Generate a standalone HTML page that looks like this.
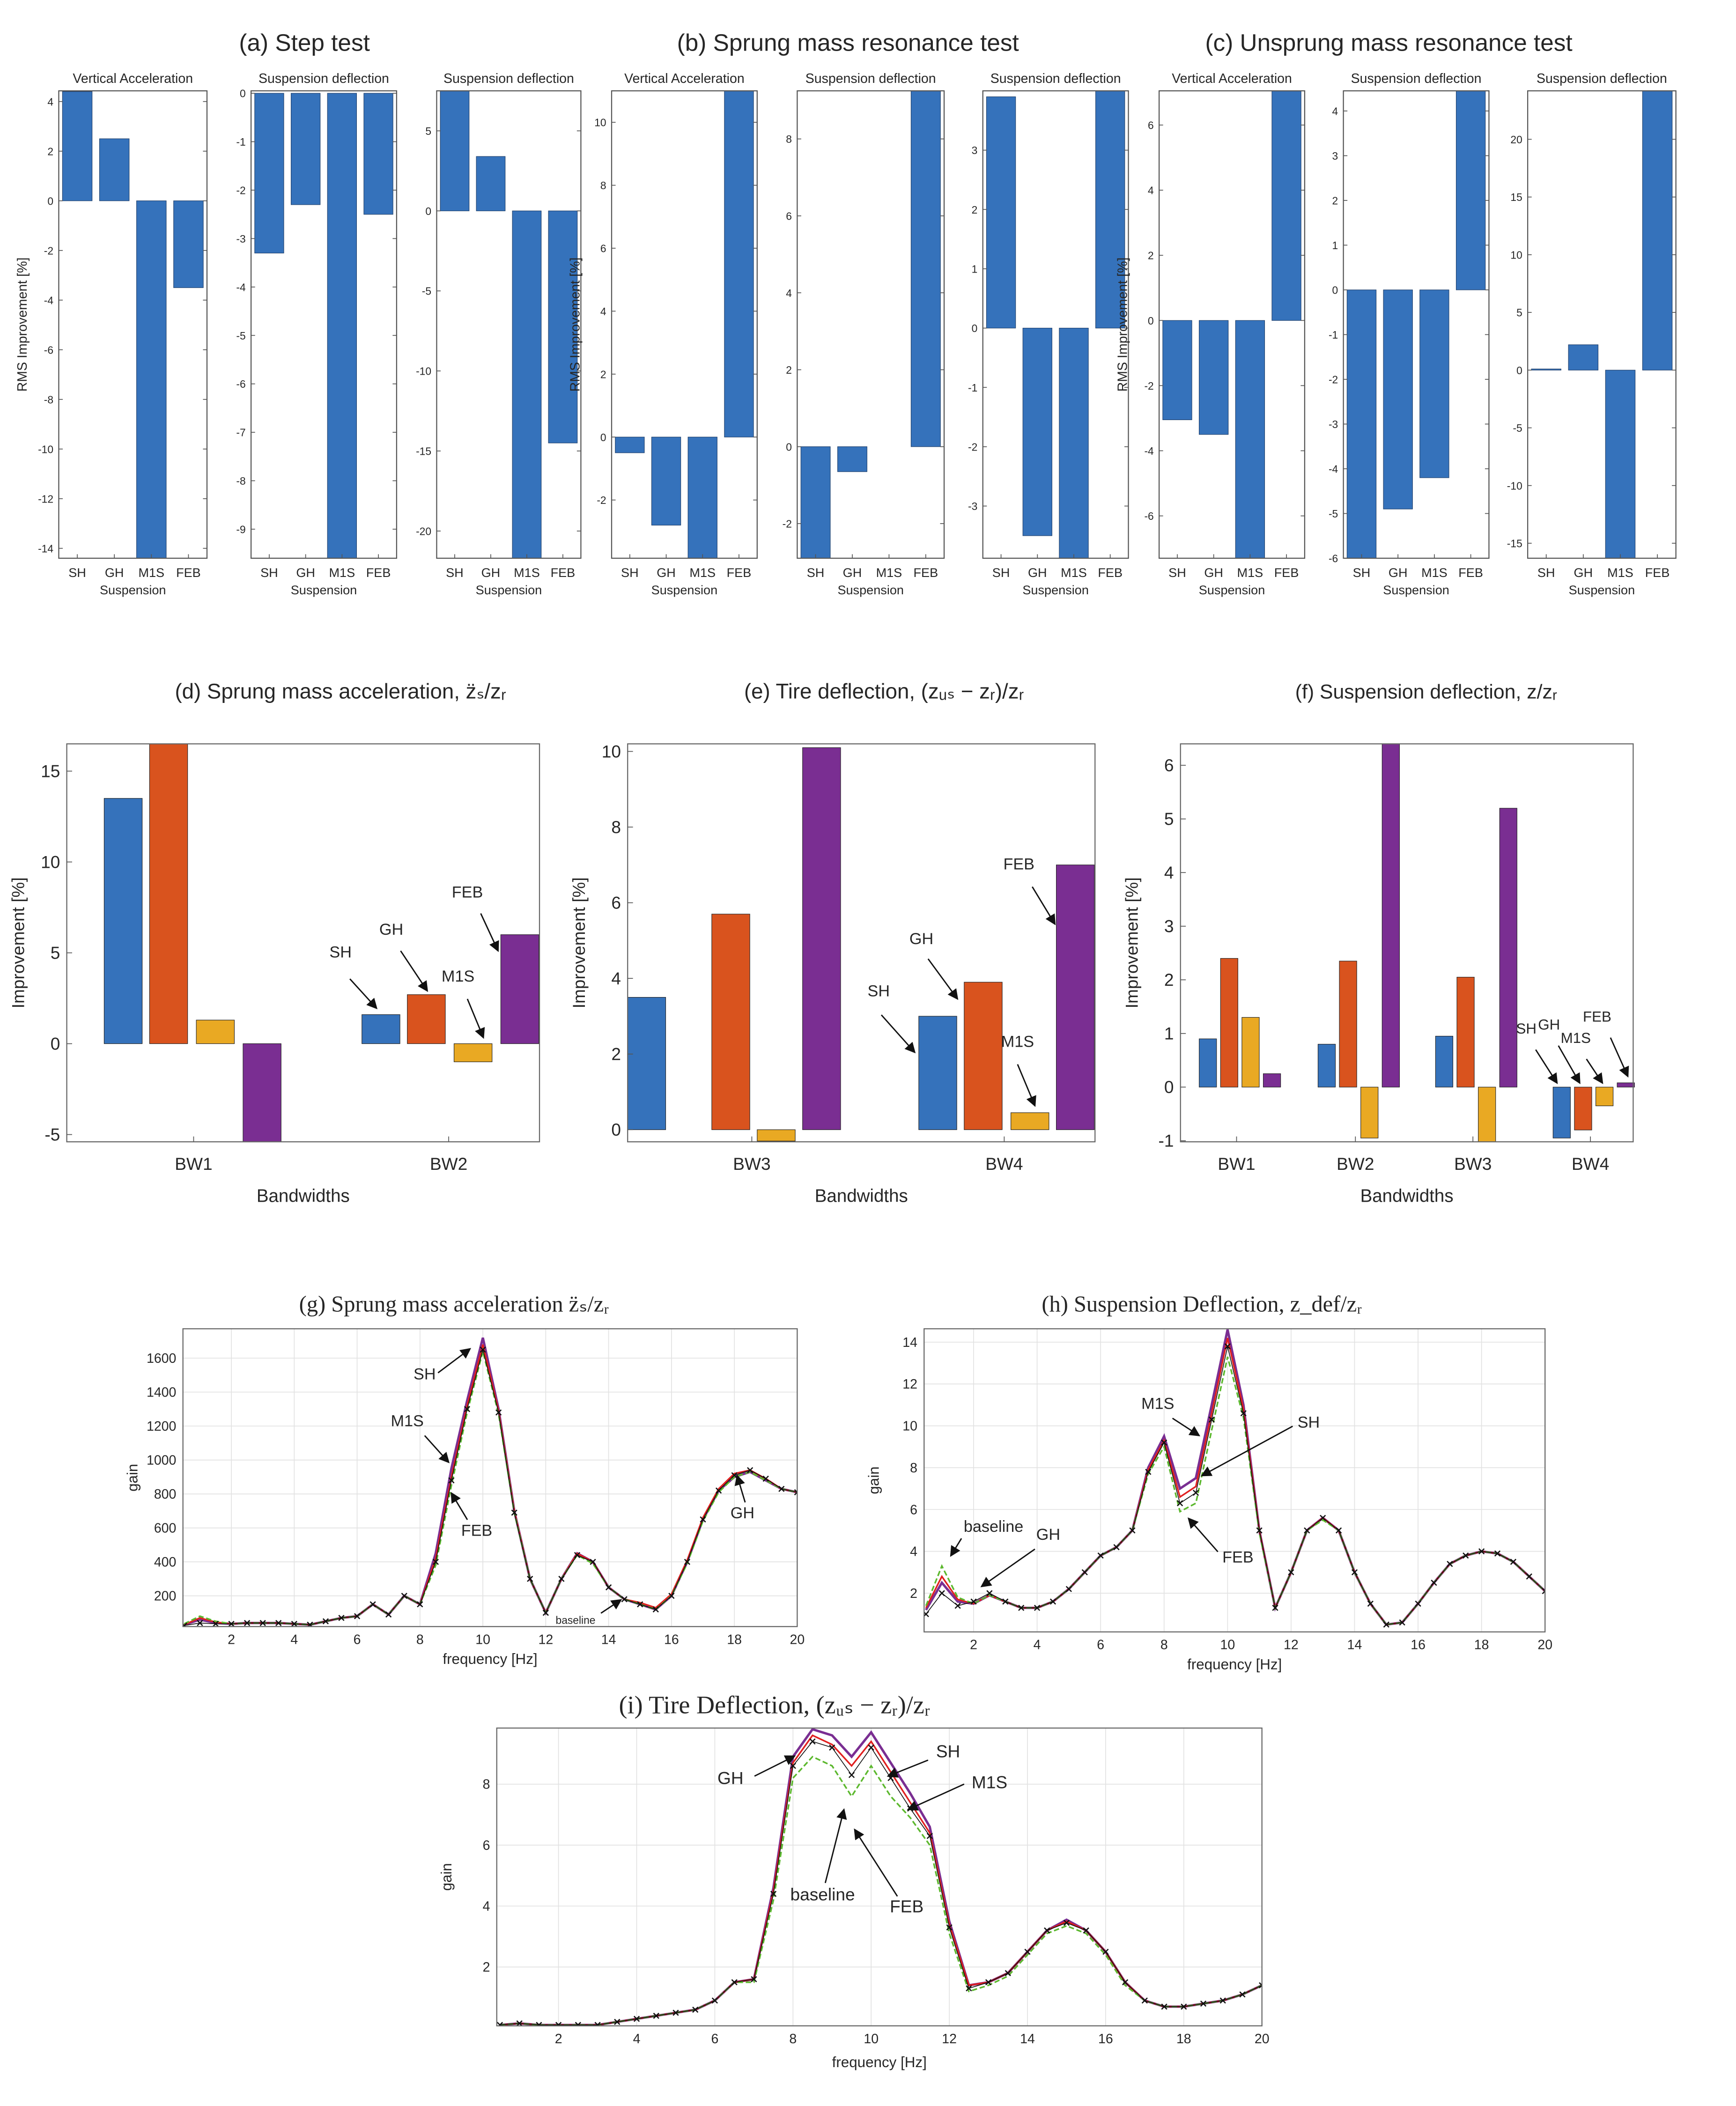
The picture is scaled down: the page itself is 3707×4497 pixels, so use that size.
<!DOCTYPE html>
<html><head><meta charset="utf-8">
<style>
html,body{margin:0;padding:0;background:#fff;}
svg{display:block;font-family:"Liberation Sans",sans-serif;}
</style></head>
<body>
<svg id="fig" xmlns="http://www.w3.org/2000/svg" width="3707" height="4497" viewBox="0 0 1300 1577">
<rect width="1300" height="1577" fill="#fff"/>
</svg>
<script>
// ---------- data: top row (RMS improvement, %) ----------
const suspCats = ["SH","GH","M1S","FEB"];
const stepVA = [4.4, 2.5, -14.4, -3.5];
const stepSD1 = [-3.3, -2.3, -9.6, -2.5];
const stepSD2 = [7.5, 3.4, -21.7, -14.5];
const sprVA = [-0.5, -2.8, -3.85, 11];
const sprSD1 = [-2.9, -0.65, 0, 9.25];
const sprSD2 = [3.9, -3.5, -3.88, 4.0];
const unsVA = [-3.05, -3.5, -7.3, 7.05];
const unsSD1 = [-6, -4.9, -4.2, 4.45];
const unsSD2 = [0.1, 2.2, -16.3, 24.2];
// ---------- data: middle row (improvement by bandwidth) ----------
const dCats = ["BW1","BW2"];
const dSH = [13.5, 1.6], dGH = [16.5, 2.7], dM1S = [1.3, -1.0], dFEB = [-5.4, 6.0];
const eCats = ["BW3","BW4"];
const eSH = [3.5, 3.0], eGH = [5.7, 3.9], eM1S = [-0.3, 0.45], eFEB = [10.1, 7.0];
const fCats = ["BW1","BW2","BW3","BW4"];
const fSH = [0.9, 0.8, 0.95, -0.95], fGH = [2.4, 2.35, 2.05, -0.8], fM1S = [1.3, -0.95, -1.02, -0.35], fFEB = [0.25, 6.4, 5.2, 0.08];
// ---------- data: bottom row (frequency response) ----------
const freq = [0.5,1,1.5,2,2.5,3,3.5,4,4.5,5,5.5,6,6.5,7,7.5,8,8.5,9,9.5,10,10.5,11,11.5,12,12.5,13,13.5,14,14.5,15,15.5,16,16.5,17,17.5,18,18.5,19,19.5,20];
const gBase = [30,60,40,35,40,40,40,35,30,50,70,80,150,90,200,150,450,950,1350,1720,1300,700,300,100,300,450,400,250,180,150,120,200,400,650,820,900,930,880,830,810];
const gSH   = [30,70,45,35,40,40,40,35,30,50,70,80,150,90,200,150,420,900,1320,1680,1290,700,300,100,300,450,400,250,180,160,130,210,410,660,830,920,940,890,830,810];
const gGH   = [25,40,35,35,40,40,40,35,30,50,70,80,150,90,200,150,400,880,1300,1650,1280,690,300,100,300,440,400,250,180,150,120,200,400,650,820,910,940,890,830,810];
const gFEB  = [35,80,50,35,40,40,40,35,30,50,70,80,150,90,200,150,380,850,1280,1640,1270,690,300,100,300,440,390,250,180,150,120,200,390,640,810,900,930,880,830,810];
const hBase = [1.2,2.5,1.6,1.5,1.9,1.6,1.3,1.3,1.6,2.2,3.0,3.8,4.2,5.0,8.0,9.5,7.0,7.5,11,14.6,11,5.0,1.3,3.0,5.0,5.6,5.0,3.0,1.5,0.5,0.6,1.5,2.5,3.4,3.8,4.0,3.9,3.5,2.8,2.1];
const hSH   = [1.3,2.8,1.7,1.5,1.9,1.6,1.3,1.3,1.6,2.2,3.0,3.8,4.2,5.0,7.9,9.3,6.6,7.1,10.6,14.2,10.8,5.0,1.3,3.0,5.0,5.6,5.0,3.0,1.5,0.5,0.6,1.5,2.5,3.4,3.8,4.0,3.9,3.5,2.8,2.1];
const hGH   = [1.0,2.0,1.4,1.6,2.0,1.6,1.3,1.3,1.6,2.2,3.0,3.8,4.2,5.0,7.8,9.2,6.3,6.8,10.3,13.8,10.6,5.0,1.3,3.0,5.0,5.6,5.0,3.0,1.5,0.5,0.6,1.5,2.5,3.4,3.8,4.0,3.9,3.5,2.8,2.1];
const hFEB  = [1.4,3.3,1.8,1.5,1.9,1.6,1.3,1.3,1.6,2.2,3.0,3.8,4.2,5.0,7.7,9.0,5.9,6.3,9.8,13.3,10.4,4.9,1.3,3.0,5.0,5.5,5.0,3.0,1.5,0.5,0.6,1.5,2.5,3.4,3.8,4.0,3.9,3.5,2.8,2.1];
const iBase = [0.1,0.15,0.1,0.1,0.1,0.1,0.2,0.3,0.4,0.5,0.6,0.9,1.5,1.6,4.6,8.9,9.8,9.6,8.9,9.7,8.7,7.7,6.6,3.5,1.4,1.5,1.8,2.5,3.2,3.55,3.2,2.5,1.5,0.9,0.7,0.7,0.8,0.9,1.1,1.4];
const iSH   = [0.1,0.15,0.1,0.1,0.1,0.1,0.2,0.3,0.4,0.5,0.6,0.9,1.5,1.6,4.5,8.7,9.6,9.3,8.6,9.4,8.4,7.4,6.4,3.4,1.4,1.5,1.8,2.5,3.2,3.5,3.2,2.5,1.5,0.9,0.7,0.7,0.8,0.9,1.1,1.4];
const iGH   = [0.1,0.15,0.1,0.1,0.1,0.1,0.2,0.3,0.4,0.5,0.6,0.9,1.5,1.6,4.4,8.6,9.4,9.2,8.3,9.2,8.2,7.2,6.3,3.3,1.3,1.5,1.8,2.5,3.2,3.45,3.2,2.5,1.5,0.9,0.7,0.7,0.8,0.9,1.1,1.4];
const iFEB  = [0.1,0.15,0.1,0.1,0.1,0.1,0.2,0.3,0.4,0.5,0.6,0.9,1.5,1.5,4.2,8.2,8.9,8.6,7.6,8.6,7.6,6.9,6.0,3.1,1.2,1.4,1.7,2.4,3.1,3.35,3.1,2.4,1.4,0.9,0.7,0.7,0.8,0.9,1.1,1.4];

const NS="http://www.w3.org/2000/svg";
const svg=document.getElementById('fig');
function mk(tag,attrs,parent,txt){const e=document.createElementNS(NS,tag);for(const k in attrs)e.setAttribute(k,attrs[k]);if(txt!==undefined)e.textContent=txt;(parent||svg).appendChild(e);return e;}
function text(x,y,s,size,anchor,name,extra){
  const t=mk('text',Object.assign({x:x,y:y,'font-size':size,'text-anchor':anchor||'middle',fill:'#262626'},extra||{}),svg,s);
  
  
  return t;
}
const BLUE='#3572bb',ORANGE='#d9531e',YELLOW='#e9a923',PURPLE='#7a2e92',GREEN='#5cb82e';

// ---------- top row small bar panels ----------
function smallPanel(name,x0,x1,y0,y1,ymin,ymax,ticks,vals,title,ylab){
  const g=mk('g',{});
  
  
  const ys=v=>y1-(v-ymin)/(ymax-ymin)*(y1-y0);
  const n=vals.length, step=(x1-x0)/n;
  const xs=i=>x0+step*(i+0.5);
  vals.forEach((v,i)=>{
    const vv=Math.max(ymin,Math.min(ymax,v));
    const r=mk('rect',{x:xs(i)-step*0.4,y:Math.min(ys(0),ys(vv)),width:step*0.8,height:Math.abs(ys(vv)-ys(0)),fill:BLUE,stroke:'#1f3f6a','stroke-width':0.4},g);
    
    
  });
  mk('rect',{x:x0,y:y0,width:x1-x0,height:y1-y0,fill:'none',stroke:'#555','stroke-width':0.8},g);
  ticks.forEach(t=>{const y=ys(t);mk('line',{x1:x0,x2:x0+3,y1:y,y2:y,stroke:'#555','stroke-width':0.6},g);mk('line',{x1:x1,x2:x1-3,y1:y,y2:y,stroke:'#555','stroke-width':0.6},g);
    text(x0-4,y+3,String(t),8,'end','y-tick-label');});
  suspCats.forEach((c,i)=>{mk('line',{x1:xs(i),x2:xs(i),y1:y1,y2:y1-3,stroke:'#555','stroke-width':0.6},g);text(xs(i),y1+14,c,9.5,'middle','x-tick-label');});
  text((x0+x1)/2,y1+27,'Suspension',9.5,'middle','x-axis-title');
  text((x0+x1)/2,y0-6,title,10,'middle','panel-title');
  if(ylab){text(0,0,'RMS Improvement [%]',10,'middle','y-axis-title',{transform:`translate(${x0-24},${(y0+y1)/2}) rotate(-90)`});}
}
smallPanel('step-vertical-acc',44,155,68,418,-14.4,4.43,[4,2,0,-2,-4,-6,-8,-10,-12,-14],stepVA,'Vertical Acceleration',true);
smallPanel('step-susp-defl-1',188,297,68,418,-9.6,0.05,[0,-1,-2,-3,-4,-5,-6,-7,-8,-9],stepSD1,'Suspension deflection',false);
smallPanel('step-susp-defl-2',327,435,68,418,-21.7,7.5,[5,0,-5,-10,-15,-20],stepSD2,'Suspension deflection',false);
smallPanel('sprung-vertical-acc',458,567,68,418,-3.85,11,[10,8,6,4,2,0,-2],sprVA,'Vertical Acceleration',true);
smallPanel('sprung-susp-defl-1',597,707,68,418,-2.9,9.25,[8,6,4,2,0,-2],sprSD1,'Suspension deflection',false);
smallPanel('sprung-susp-defl-2',736,845,68,418,-3.88,4.0,[3,2,1,0,-1,-2,-3],sprSD2,'Suspension deflection',false);
smallPanel('unsprung-vertical-acc',868,977,68,418,-7.3,7.05,[6,4,2,0,-2,-4,-6],unsVA,'Vertical Acceleration',true);
smallPanel('unsprung-susp-defl-1',1006,1115,68,418,-6,4.45,[4,3,2,1,0,-1,-2,-3,-4,-5,-6],unsSD1,'Suspension deflection',false);
smallPanel('unsprung-susp-defl-2',1144,1255,68,418,-16.3,24.2,[20,15,10,5,0,-5,-10,-15],unsSD2,'Suspension deflection',false);
text(228,38,'(a) Step test',18,'middle','title-a');
text(635,38,'(b) Sprung mass resonance test',18,'middle','title-b');
text(1040,38,'(c) Unsprung mass resonance test',18,'middle','title-c');

// ---------- middle row grouped bars ----------
function groupPanel(name,x0,x1,y0,y1,ymin,ymax,ticks,cats,centers,offsets,bw,series,labelX){
  const g=mk('g',{});
  
  
  const ys=v=>y1-(v-ymin)/(ymax-ymin)*(y1-y0);
  const cols=[BLUE,ORANGE,YELLOW,PURPLE];
  series.forEach((s,si)=>s.forEach((v,ci)=>{
    const vv=Math.max(ymin,Math.min(ymax,v));
    const off=Array.isArray(offsets[0])?offsets[ci][si]:offsets[si];
    const r=mk('rect',{x:centers[ci]+off,y:Math.min(ys(0),ys(vv)),width:bw,height:Math.abs(ys(vv)-ys(0)),fill:cols[si],stroke:'#222','stroke-width':0.4},g);
    
    
  }));
  mk('rect',{x:x0,y:y0,width:x1-x0,height:y1-y0,fill:'none',stroke:'#666','stroke-width':0.8},g);
  ticks.forEach(t=>{const y=ys(t);mk('line',{x1:x0,x2:x0+4,y1:y,y2:y,stroke:'#555','stroke-width':0.6},g);text(x0-5,y+4.5,String(t),13,'end','y-tick-label');});
  cats.forEach((c,i)=>{const cx=labelX[i];mk('line',{x1:cx,x2:cx,y1:y1,y2:y1-4,stroke:'#555','stroke-width':0.6},g);text(cx,y1+21,c,13,'middle','x-tick-label');});
  text((x0+x1)/2,y1+45,'Bandwidths',13.5,'middle','x-axis-title');
  text(0,0,'Improvement [%]',13,'middle','y-axis-title',{transform:`translate(${x0-32},${(y0+y1)/2}) rotate(-90)`});
}
groupPanel('panel-d',50,404,557,855,-5.4,16.5,[15,10,5,0,-5],dCats,[78,271],[0,34,69,104],28.5,[dSH,dGH,dM1S,dFEB],[145,336]);
groupPanel('panel-e',470,820,557,855,-0.32,10.2,[10,8,6,4,2,0],eCats,[470,688],[[0,63,97,131],[0,34,69,103]],28.5,[eSH,eGH,eM1S,eFEB],[563,752]);
groupPanel('panel-f',884,1223,557,855,-1.02,6.4,[6,5,4,3,2,1,0,-1],fCats,[898,987,1075,1163],[0,16,32,48],13,[fSH,fGH,fM1S,fFEB],[926,1015,1103,1191]);
text(255,523,'(d) Sprung mass acceleration,    z̈ₛ/zᵣ',16,'middle','title-d');
text(662,523,'(e) Tire deflection,  (zᵤₛ − zᵣ)/zᵣ',16,'middle','title-e');
text(1068,523,'(f) Suspension deflection,  z/zᵣ',15,'middle','title-f');

// arrow annotations
mk('defs',{}).innerHTML='<marker id="ah" markerWidth="8" markerHeight="8" refX="7" refY="4" orient="auto"><path d="M0,0 L8,4 L0,8 z" fill="#111"/></marker>';
function ann(tx,ty,s,size,x1,y1,x2,y2,name){
  text(tx,ty,s,size,'middle',name);
  const l=mk('line',{x1:x1,y1:y1,x2:x2,y2:y2,stroke:'#111','stroke-width':1,'marker-end':'url(#ah)'});
  
  
}
ann(255,717,'SH',12,262,733,282,755,'annot-sh-d');
ann(293,700,'GH',12,300,712,320,742,'annot-gh-d');
ann(343,735,'M1S',12,350,748,362,777,'annot-m1s-d');
ann(350,672,'FEB',12,360,684,373,712,'annot-feb-d');
ann(658,746,'SH',12,660,760,685,788,'annot-sh-e');
ann(690,707,'GH',12,695,718,717,748,'annot-gh-e');
ann(762,784,'M1S',12,762,797,775,828,'annot-m1s-e');
ann(763,651,'FEB',12,773,664,790,692,'annot-feb-e');
ann(1143,774,'SH',11,1150,786,1166,811,'annot-sh-f');
ann(1160,771,'GH',11,1167,783,1183,811,'annot-gh-f');
ann(1180,781,'M1S',11,1188,793,1200,811,'annot-m1s-f');
ann(1196,765,'FEB',11,1206,777,1219,806,'annot-feb-f');

// ---------- bottom line charts ----------
function linePanel(name,x0,x1,y0,y1,xmin,xmax,ymin,ymax,yticks,series,xlabY){
  const g=mk('g',{});
  
  
  const xs=v=>x0+(v-xmin)/(xmax-xmin)*(x1-x0);
  const ys=v=>y1-(v-ymin)/(ymax-ymin)*(y1-y0);
  const xt=[2,4,6,8,10,12,14,16,18,20];
  xt.forEach(t=>mk('line',{x1:xs(t),x2:xs(t),y1:y0,y2:y1,stroke:'#e2e2e2','stroke-width':0.6},g));
  yticks.forEach(t=>mk('line',{x1:x0,x2:x1,y1:ys(t),y2:ys(t),stroke:'#e2e2e2','stroke-width':0.6},g));
  const cp=mk('clipPath',{id:'cp-'+name},g);mk('rect',{x:x0,y:y0,width:x1-x0,height:y1-y0},cp);
  const lg=mk('g',{'clip-path':`url(#cp-${name})`},g);
  series.forEach(s=>{
    const d=s.vals.map((v,i)=>(i?'L':'M')+xs(freq[i]).toFixed(2)+','+ys(v).toFixed(2)).join(' ');
    const p=mk('path',{d:d,fill:'none',stroke:s.color,'stroke-width':s.w||1.3,'stroke-dasharray':s.dash||'none'},lg);
    
    
    if(s.marker){s.vals.forEach((v,i)=>{const cx=xs(freq[i]),cy=ys(v);mk('path',{d:`M${cx-2},${cy-2}L${cx+2},${cy+2}M${cx-2},${cy+2}L${cx+2},${cy-2}`,stroke:'#111','stroke-width':0.9},lg);});}
  });
  mk('rect',{x:x0,y:y0,width:x1-x0,height:y1-y0,fill:'none',stroke:'#666','stroke-width':0.8},g);
  xt.forEach(t=>text(xs(t),y1+13,String(t),10,'middle','x-tick-label'));
  yticks.forEach(t=>text(x0-5,ys(t)+3.5,String(t),10,'end','y-tick-label'));
  text((x0+x1)/2,y1+xlabY,'frequency [Hz]',11,'middle','x-axis-title');
  text(0,0,'gain',11,'middle','y-axis-title',{transform:`translate(${x0-34},${(y0+y1)/2}) rotate(-90)`});
}
function ser(b,sh,gh,feb){return [
  {name:'baseline-line',vals:b,color:PURPLE,w:1.8},
  {name:'sh-line',vals:sh,color:'#e02020',w:1.2},
  {name:'feb-line',vals:feb,color:GREEN,w:1.2,dash:'4,2'},
  {name:'gh-line',vals:gh,color:'#111',w:0.6,marker:true}];}
linePanel('panel-g',137,597,995,1218,0.46,20,19,1773,[200,400,600,800,1000,1200,1400,1600],ser(gBase,gSH,gGH,gFEB),28);
linePanel('panel-h',692,1157,995,1222,0.44,20,0.15,14.64,[2,4,6,8,10,12,14],ser(hBase,hSH,hGH,hFEB),28);
linePanel('panel-i',372,945,1294,1517,0.42,20,0.07,9.84,[2,4,6,8],ser(iBase,iSH,iGH,iFEB),31);
text(340,982,'(g) Sprung mass acceleration z̈ₛ/zᵣ',17,'middle','title-g',{'font-family':'Liberation Serif, serif'});
text(900,982,'(h) Suspension Deflection, z_def/zᵣ',17,'middle','title-h',{'font-family':'Liberation Serif, serif'});
text(580,1283,'(i) Tire Deflection,  (zᵤₛ − zᵣ)/zᵣ',19,'middle','title-i',{'font-family':'Liberation Serif, serif'});
ann(318,1033,'SH',12,328,1028,352,1010,'annot-sh-g');
ann(305,1068,'M1S',12,318,1075,336,1095,'annot-m1s-g');
ann(357,1150,'FEB',12,350,1138,338,1118,'annot-feb-g');
ann(556,1137,'GH',12,558,1125,552,1105,'annot-gh-g');
ann(431,1216,'baseline',8,450,1208,465,1198,'annot-baseline-g');
ann(867,1055,'M1S',12,878,1062,898,1075,'annot-m1s-h');
ann(980,1069,'SH',12,968,1068,900,1105,'annot-sh-h');
ann(927,1170,'FEB',12,912,1162,890,1137,'annot-feb-h');
ann(744,1147,'baseline',12,720,1152,712,1165,'annot-baseline-h');
ann(785,1153,'GH',12,775,1160,735,1188,'annot-gh-h');
ann(547,1336,'GH',13,565,1330,595,1315,'annot-gh-i');
ann(710,1316,'SH',13,695,1318,665,1330,'annot-sh-i');
ann(741,1339,'M1S',13,722,1336,680,1355,'annot-m1s-i');
ann(616,1423,'baseline',13,618,1410,632,1355,'annot-baseline-i');
ann(679,1432,'FEB',13,672,1420,640,1370,'annot-feb-i');
</script>
</body></html>
